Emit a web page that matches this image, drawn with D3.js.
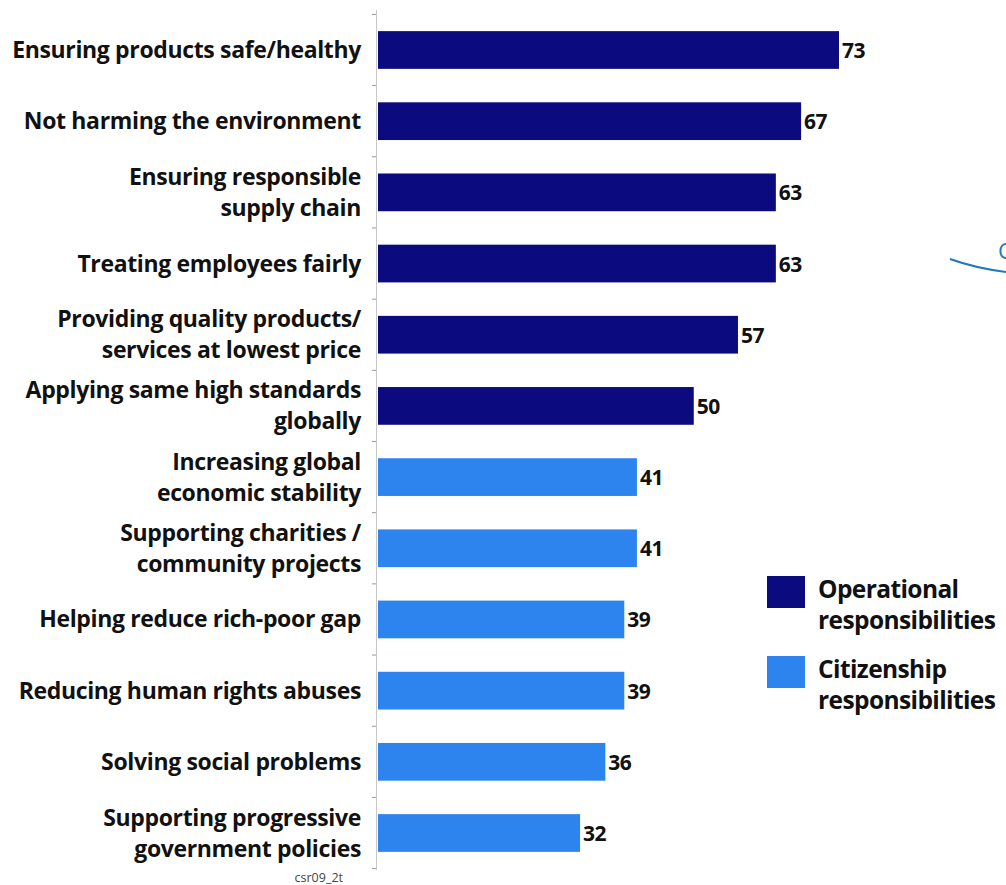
<!DOCTYPE html>
<html>
<head>
<meta charset="utf-8">
<script src="https://d3js.org/d3.v7.min.js"></script>
<style>
    body{ margin:0; background:#fff; }
    text{ font-family:"Open Sans", "DejaVu Sans", sans-serif; }
</style>
</head>
<body>
<svg id="chart" width="1006" height="885"></svg>
<script>
    // category labels (line-broken as in the picture)
    var labels = [
        ["Ensuring products safe/healthy"],
        ["Not harming the environment"],
        ["Ensuring responsible", "supply chain"],
        ["Treating employees fairly"],
        ["Providing quality products/", "services at lowest price"],
        ["Applying same high standards", "globally"],
        ["Increasing global", "economic stability"],
        ["Supporting charities /", "community projects"],
        ["Helping reduce rich-poor gap"],
        ["Reducing human rights abuses"],
        ["Solving social problems"],
        ["Supporting progressive", "government policies"]
    ];
    var values = [73, 67, 63, 63, 57, 50, 41, 41, 39, 39, 36, 32];
    var groups = ["op", "op", "op", "op", "op", "op", "cit", "cit", "cit", "cit", "cit", "cit"];
    var legendNames = [["Operational", "responsibilities"], ["Citizenship", "responsibilities"]];

    var colors = {op: "#0b0a7e", cit: "#2e84ee"};

    var svg = d3.select("#chart");
    var idx = d3.range(values.length);

    var x = d3.scaleLinear().domain([0, 73]).range([378, 839]);
    var y = d3.scaleBand().domain(idx).range([14.4, 868.6]).paddingInner(0.47).paddingOuter(0.235);

    // axis line + ticks between categories
    svg.append("line")
        .attr("x1", 376.5).attr("x2", 376.5)
        .attr("y1", 10).attr("y2", 870)
        .attr("stroke", "#c8c8c8").attr("stroke-width", 1);

    var step = y.step();
    svg.selectAll(".tick")
        .data(d3.range(values.length + 1))
        .enter().append("line")
        .attr("x1", 372).attr("x2", 376)
        .attr("y1", function(d){ return 14.4 + d * step; })
        .attr("y2", function(d){ return 14.4 + d * step; })
        .attr("stroke", "#999").attr("stroke-width", 1);

    svg.selectAll(".bar")
        .data(idx)
        .enter().append("rect")
        .attr("x", x(0))
        .attr("y", function(i){ return y(i); })
        .attr("width", function(i){ return x(values[i]) - x(0); })
        .attr("height", y.bandwidth())
        .attr("fill", function(i){ return colors[groups[i]]; });

    svg.selectAll(".val")
        .data(idx)
        .enter().append("text")
        .attr("x", function(i){ return x(values[i]) + 3; })
        .attr("y", function(i){ return y(i) + y.bandwidth() / 2 + 8; })
        .attr("font-size", 21).attr("font-weight", "bold")
        .attr("letter-spacing", -0.5)
        .attr("fill", "#111")
        .text(function(i){ return values[i]; });

    // category labels, right aligned
    idx.forEach(function(i){
        var lines = labels[i];
        var cy = y(i) + y.bandwidth() / 2;
        var lh = 31;
        var y0 = cy - (lines.length - 1) * lh / 2 + 8;
        var t = svg.append("text")
            .attr("text-anchor", "end")
            .attr("font-size", 23).attr("font-weight", "bold")
            .attr("letter-spacing", -0.35)
            .attr("fill", "#111");
        lines.forEach(function(s, k){
            t.append("tspan").attr("x", 361).attr("y", y0 + k * lh).text(s);
        });
    });

    // legend
    var legendKeys = ["op", "cit"];
    legendKeys.forEach(function(k, j){
        var ly = 576 + j * 80;
        svg.append("rect").attr("x", 767).attr("y", ly).attr("width", 38).attr("height", 32)
            .attr("fill", colors[k]);
        var t = svg.append("text").attr("font-size", 24.5).attr("font-weight", "bold")
            .attr("letter-spacing", -0.6).attr("fill", "#111");
        legendNames[j].forEach(function(s, m){
            t.append("tspan").attr("x", 818).attr("y", ly + 22 + m * 31).text(s);
        });
    });

    // fragment of a neighbouring graphic at the right edge
    svg.append("path")
        .attr("d", "M950,259 Q975,268 1006,272")
        .attr("fill", "none").attr("stroke", "#1f78b8").attr("stroke-width", 2);
    svg.append("text").attr("x", 998).attr("y", 259)
        .attr("font-size", 22).attr("fill", "#1f78b8").text("C");

    svg.append("text").attr("x", 343).attr("y", 882).attr("text-anchor", "end")
        .attr("font-family", "Liberation Sans, Arial, sans-serif")
        .attr("font-size", 12.5).attr("fill", "#444").text("csr09_2t");
</script>
</body>
</html>
